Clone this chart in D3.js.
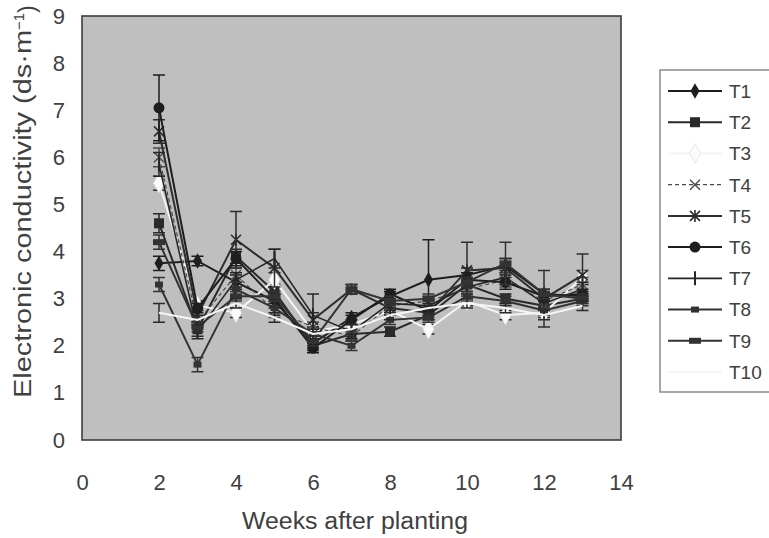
<!DOCTYPE html>
<html>
<head>
<meta charset="utf-8">
<script src="https://cdn.jsdelivr.net/npm/d3@7/dist/d3.min.js"></script>
<style>
  body { margin: 0; background: #fff; }
  svg { display: block; }
  text { font-family: "Liberation Sans", Arial, sans-serif; fill: #404040; }
</style>
</head>
<body>
<svg id="chart" width="769" height="538"></svg>
<script>
// Sampling weeks after planting
const weeks = [2, 3, 4, 5, 6, 7, 8, 9, 10, 11, 12, 13];
const seriesNames = ["T1", "T2", "T3", "T4", "T5", "T6", "T7", "T8", "T9", "T10"];
const xTicks = [0, 2, 4, 6, 8, 10, 12, 14];
const yTicks = [0, 1, 2, 3, 4, 5, 6, 7, 8, 9];

// Mean EC per treatment (dS/m)
const t1  = [3.75, 3.80, 3.35, 2.95, 2.05, 2.60, 3.05, 3.40, 3.50, 3.70, 3.10, 3.05];
const t2  = [4.60, 2.35, 3.90, 3.15, 2.00, 2.25, 2.30, 2.65, 3.30, 3.00, 2.85, 3.00];
const t3  = [5.45, 2.85, 2.70, 3.40, 2.30, 2.45, 2.75, 2.35, 2.95, 2.65, 2.70, 3.45];
const t4  = [6.00, 2.50, 3.50, 2.75, 2.40, 2.20, 2.85, 2.95, 3.20, 3.40, 2.95, 3.30];
const t5  = [6.55, 2.65, 4.25, 3.65, 2.55, 3.20, 2.80, 2.70, 3.60, 3.65, 3.00, 3.50];
const t6  = [7.05, 2.80, 3.85, 3.00, 1.95, 2.55, 3.10, 2.75, 3.40, 3.35, 3.05, 3.10];
const t7  = [5.85, 2.30, 3.40, 3.85, 2.65, 2.30, 2.90, 2.85, 3.25, 3.45, 2.90, 3.20];
const t8  = [3.30, 1.60, 3.20, 2.80, 2.25, 2.00, 2.55, 2.60, 3.05, 2.95, 2.75, 2.95];
const t9  = [4.20, 2.40, 3.05, 3.05, 2.10, 3.20, 2.95, 3.00, 3.35, 3.75, 3.10, 3.00];
const t10 = [2.70, 2.55, 2.90, 2.60, 2.25, 2.35, 2.65, 2.80, 2.90, 2.80, 2.65, 2.85];

// Standard errors per treatment
const t1Err  = [0.15, 0.10, 0.15, 0.15, 0.10, 0.10, 0.10, 0.85, 0.15, 0.15, 0.10, 0.10];
const t2Err  = [0.20, 0.15, 0.15, 0.15, 0.10, 0.10, 0.10, 0.10, 0.15, 0.10, 0.10, 0.10];
const t3Err  = [0.15, 0.10, 0.10, 0.15, 0.10, 0.10, 0.10, 0.10, 0.10, 0.10, 0.10, 0.15];
const t4Err  = [0.20, 0.10, 0.15, 0.15, 0.10, 0.10, 0.10, 0.10, 0.15, 0.15, 0.10, 0.15];
const t5Err  = [0.25, 0.15, 0.60, 0.40, 0.15, 0.10, 0.10, 0.10, 0.60, 0.20, 0.60, 0.45];
const t6Err  = [0.70, 0.10, 0.15, 0.10, 0.10, 0.10, 0.10, 0.10, 0.15, 0.15, 0.10, 0.10];
const t7Err  = [0.25, 0.15, 0.15, 0.20, 0.45, 0.15, 0.10, 0.10, 0.15, 0.15, 0.10, 0.15];
const t8Err  = [0.15, 0.15, 0.15, 0.15, 0.10, 0.10, 0.10, 0.10, 0.10, 0.10, 0.10, 0.10];
const t9Err  = [0.15, 0.10, 0.10, 0.10, 0.10, 0.10, 0.10, 0.10, 0.10, 0.45, 0.10, 0.10];
const t10Err = [0.20, 0.10, 0.10, 0.10, 0.10, 0.10, 0.10, 0.10, 0.10, 0.10, 0.10, 0.10];

const values = [t1, t2, t3, t4, t5, t6, t7, t8, t9, t10];
const errors = [t1Err, t2Err, t3Err, t4Err, t5Err, t6Err, t7Err, t8Err, t9Err, t10Err];

// Line / marker style per treatment
const styles = [
  { stroke: "#1e1e1e", width: 2,   dash: null,  marker: "diamond" },
  { stroke: "#2a2a2a", width: 2,   dash: null,  marker: "square" },
  { stroke: "#f4f4f4", width: 2,   dash: null,  marker: "whiteDiamond" },
  { stroke: "#4a4a4a", width: 1.2, dash: "4,3", marker: "times" },
  { stroke: "#2e2e2e", width: 2,   dash: null,  marker: "asterisk" },
  { stroke: "#1e1e1e", width: 2,   dash: null,  marker: "circle" },
  { stroke: "#262626", width: 1.6, dash: null,  marker: "vbar" },
  { stroke: "#333333", width: 2,   dash: null,  marker: "smallRect" },
  { stroke: "#333333", width: 2,   dash: null,  marker: "rect" },
  { stroke: "#f6f6f6", width: 2,   dash: null,  marker: "none" }
];

const svg = d3.select("#chart");
const plot = { left: 82, top: 16, right: 621, bottom: 440 };

const x = d3.scaleLinear().domain([0, 14]).range([plot.left, plot.right]);
const y = d3.scaleLinear().domain([0, 9]).range([plot.bottom, plot.top]);

// Plot area
svg.append("rect")
  .attr("x", plot.left).attr("y", plot.top)
  .attr("width", plot.right - plot.left).attr("height", plot.bottom - plot.top)
  .attr("fill", "#bfbfbf")
  .attr("stroke", "#3c3c3c").attr("stroke-width", 1.6);

// Axes
const xAxis = svg.append("g")
  .attr("transform", `translate(0,${plot.bottom})`)
  .call(d3.axisBottom(x).tickValues(xTicks).tickSize(0).tickPadding(34));
xAxis.select(".domain").remove();
xAxis.selectAll("text").style("font-size", "22px");

const yAxis = svg.append("g")
  .attr("transform", `translate(${plot.left},0)`)
  .call(d3.axisLeft(y).tickValues(yTicks).tickSize(0).tickPadding(17));
yAxis.select(".domain").remove();
yAxis.selectAll("text").style("font-size", "22px");

// Axis titles
svg.append("text")
  .attr("x", 355).attr("y", 529)
  .attr("text-anchor", "middle")
  .attr("textLength", 226).attr("lengthAdjust", "spacingAndGlyphs")
  .style("font-size", "23px")
  .text("Weeks after planting");

const yTitle = svg.append("text")
  .attr("transform", "translate(31,398) rotate(-90)")
  .attr("text-anchor", "start")
  .style("font-size", "23px");
yTitle.append("tspan")
  .attr("textLength", 368).attr("lengthAdjust", "spacingAndGlyphs")
  .text("Electronic conductivity (ds·m");
yTitle.append("tspan").attr("dy", "-0.5em").style("font-size", "15px").text("−1");
yTitle.append("tspan").attr("dy", "0.5em").text(")");

// Marker drawing
function drawMarker(g, kind, cx, cy, color) {
  const s = g.append("g").attr("transform", `translate(${cx},${cy})`);
  switch (kind) {
    case "diamond":
      s.append("path").attr("d", d3.symbol(d3.symbolDiamond, 70)()).attr("fill", color);
      break;
    case "whiteDiamond":
      s.append("path").attr("d", d3.symbol(d3.symbolDiamond, 110)())
        .attr("fill", "#fbfbfb").attr("stroke", "#d8d8d8").attr("stroke-width", 0.6);
      break;
    case "square":
      s.append("rect").attr("x", -5).attr("y", -5).attr("width", 10).attr("height", 10).attr("fill", color);
      break;
    case "circle":
      s.append("circle").attr("r", 5.5).attr("fill", color);
      break;
    case "times":
      s.append("path").attr("d", "M-5,-5L5,5M-5,5L5,-5").attr("stroke", color).attr("stroke-width", 1.4);
      break;
    case "asterisk":
      s.append("path").attr("d", "M-5,-5L5,5M-5,5L5,-5M0,-6L0,6").attr("stroke", color).attr("stroke-width", 1.6);
      break;
    case "vbar":
      s.append("path").attr("d", "M0,-7L0,7").attr("stroke", color).attr("stroke-width", 2);
      break;
    case "smallRect":
      s.append("rect").attr("x", -4).attr("y", -3).attr("width", 8).attr("height", 6).attr("fill", color);
      break;
    case "rect":
      s.append("rect").attr("x", -6).attr("y", -3).attr("width", 12).attr("height", 6).attr("fill", color);
      break;
    default:
      break;
  }
}

const line = d3.line().x(d => x(d[0])).y(d => y(d[1]));
const series = svg.append("g");

values.forEach((vals, i) => {
  const st = styles[i];
  const pts = weeks.map((w, j) => [w, vals[j], errors[i][j]]);
  const g = series.append("g").attr("class", "series-" + seriesNames[i]);
  const barColor = (st.marker === "whiteDiamond" || st.marker === "none") ? "#2a2a2a" : st.stroke;

  // Error bars
  pts.forEach(p => {
    const xp = x(p[0]);
    const y0 = y(p[1] - p[2]);
    const y1 = y(p[1] + p[2]);
    g.append("path")
      .attr("d", `M${xp},${y0}L${xp},${y1}M${xp - 6},${y0}L${xp + 6},${y0}M${xp - 6},${y1}L${xp + 6},${y1}`)
      .attr("stroke", barColor).attr("stroke-width", 1.5).attr("fill", "none");
  });

  // Connecting line
  g.append("path")
    .attr("d", line(pts))
    .attr("fill", "none")
    .attr("stroke", st.stroke)
    .attr("stroke-width", st.width)
    .attr("stroke-dasharray", st.dash);

  // Markers
  pts.forEach(p => drawMarker(g, st.marker, x(p[0]), y(p[1]), st.stroke));
});

// Legend
const legend = svg.append("g");
legend.append("rect")
  .attr("x", 660).attr("y", 70).attr("width", 130).attr("height", 322)
  .attr("fill", "#fff").attr("stroke", "#8a8a8a").attr("stroke-width", 1.5);

const legendY = d3.scalePoint().domain(seriesNames).range([91, 372]);
seriesNames.forEach((name, i) => {
  const st = styles[i];
  const ly = legendY(name);
  legend.append("line")
    .attr("x1", 668).attr("x2", 722).attr("y1", ly).attr("y2", ly)
    .attr("stroke", st.stroke).attr("stroke-width", st.width)
    .attr("stroke-dasharray", st.dash);
  drawMarker(legend, st.marker, 695, ly, st.stroke);
  legend.append("text")
    .attr("x", 729).attr("y", ly).attr("dy", "0.36em")
    .style("font-size", "19px")
    .text(name);
});
</script>
</body>
</html>
